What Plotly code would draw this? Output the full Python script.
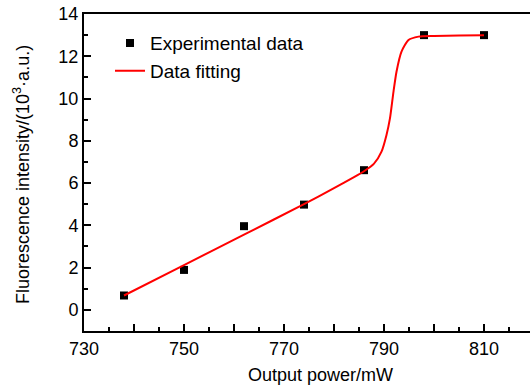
import plotly.graph_objects as go

# Experimental data
exp_power = [738, 750, 762, 774, 786, 798, 810]
exp_intensity = [0.68, 1.89, 3.96, 4.98, 6.61, 13.0, 13.0]

# Fitted curve
fit_power = [738, 750, 762, 774, 780, 784, 786, 788, 789.5, 790.5, 791.2, 791.9,
             792.5, 793.5, 794.9, 796.9, 800, 805, 810]
fit_intensity = [0.68, 2.12, 3.56, 5.0, 5.76, 6.28, 6.56, 6.92, 7.49, 8.28, 9.07, 10.33,
                 11.27, 12.22, 12.77, 12.93, 12.96, 12.98, 13.0]

x_tickvals = [730, 740, 750, 760, 770, 780, 790, 800, 810, 820]
x_ticktext = ["730", "", "750", "", "770", "", "790", "", "810", ""]
y_tickvals = [0, 2, 4, 6, 8, 10, 12, 14]

font_family = "Liberation Sans, Arial, sans-serif"
W, H = 530, 387
L, R, T, B = 84, 0, 14, 56
pw, ph = W - L - R, H - T - B

fig = go.Figure()
fig.add_trace(go.Scatter(
    x=exp_power, y=exp_intensity, mode="markers", name="Experimental data",
    marker=dict(symbol="square", size=8, color="black"),
))
fig.add_trace(go.Scatter(
    x=fit_power, y=fit_intensity, mode="lines", name="Data fitting",
    line=dict(color="#ff0000", width=2, shape="spline", smoothing=0.6),
))

axis_common = dict(
    showline=True, linecolor="black", linewidth=2,
    ticks="inside", ticklen=7, tickwidth=1.5, tickcolor="black",
    showgrid=False, zeroline=False, automargin=False,
    tickfont=dict(family=font_family, size=18, color="black"),
)

fig.update_xaxes(
    range=[730, 819.2], tickvals=x_tickvals, ticktext=x_ticktext,
    mirror=True,
    minor=dict(dtick=5, ticks="inside", ticklen=4, tickwidth=1.5, tickcolor="black"),
    **axis_common,
)
fig.update_yaxes(
    range=[-1, 14], tickvals=y_tickvals,
    minor=dict(dtick=1, tick0=0, ticks="inside", ticklen=4, tickwidth=1.5, tickcolor="black"),
    **axis_common,
)

fig.add_annotation(
    text="Output power/mW", xref="paper", yref="paper",
    x=(320 - L) / pw, y=-(375 - (H - B)) / ph, showarrow=False,
    xanchor="center", yanchor="middle",
    font=dict(family=font_family, size=18, color="black"),
)
fig.add_annotation(
    text="Fluorescence intensity/(10<sup>3</sup>·a.u.)", xref="paper", yref="paper",
    x=-(L - 22) / pw, y=1 - (175 - T) / ph, showarrow=False, textangle=-90,
    xanchor="center", yanchor="middle",
    font=dict(family=font_family, size=18, color="black"),
)

fig.update_layout(
    width=W, height=H,
    margin=dict(l=L, r=R, t=T, b=B),
    paper_bgcolor="white", plot_bgcolor="white",
    showlegend=True,
    legend=dict(
        x=(110 - L) / pw, y=0.968, xanchor="left", yanchor="top",
        bgcolor="rgba(0,0,0,0)", tracegroupgap=0,
        font=dict(family=font_family, size=19, color="black"),
    ),
)

fig.write_html(
    "out.html",
    config={"displayModeBar": False},
    post_script="document.body.style.margin='0';document.body.style.overflow='hidden';",
)
